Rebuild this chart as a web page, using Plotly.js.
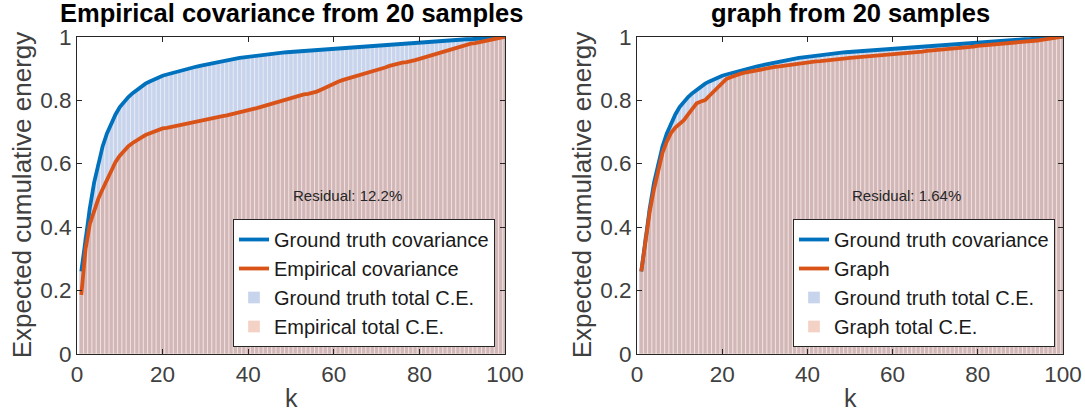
<!DOCTYPE html>
<html>
<head>
<meta charset="utf-8">
<script src="https://cdn.plot.ly/plotly-3.0.1.min.js"></script>
<style>html,body{margin:0;padding:0;background:#fff;}#chart{width:1085px;height:417px;}</style>
</head>
<body>
<div id="chart"></div>
<script>
// k = 1..100
const k = [1,2,3,4,5,6,7,8,9,10,11,12,13,14,15,16,17,18,19,20,21,22,23,24,25,26,27,28,29,30,31,32,33,34,35,36,37,38,39,40,41,42,43,44,45,46,47,48,49,50,51,52,53,54,55,56,57,58,59,60,61,62,63,64,65,66,67,68,69,70,71,72,73,74,75,76,77,78,79,80,81,82,83,84,85,86,87,88,89,90,91,92,93,94,95,96,97,98,99,100];

// Ground truth covariance expected cumulative energy (same in both panels)
const groundTruth = [0.26,0.37,0.46,0.54,0.60,0.655,0.695,0.728,0.755,0.778,0.795,0.81,0.822,0.833,0.843,0.852,0.859,0.866,0.872,0.877,0.881,0.885,0.889,0.893,0.897,0.900,0.903,0.906,0.909,0.912,0.915,0.918,0.921,0.924,0.927,0.929,0.931,0.933,0.935,0.937,0.939,0.940,0.942,0.944,0.945,0.947,0.948,0.950,0.951,0.952,0.953,0.955,0.956,0.957,0.958,0.959,0.960,0.961,0.962,0.963,0.964,0.965,0.966,0.967,0.968,0.969,0.970,0.971,0.972,0.973,0.974,0.975,0.976,0.977,0.978,0.979,0.980,0.981,0.982,0.983,0.984,0.984,0.985,0.986,0.987,0.988,0.988,0.989,0.990,0.991,0.992,0.992,0.993,0.994,0.995,0.996,0.997,0.998,0.999,1.0];

// Empirical covariance (left panel)
const empirical = [0.186,0.33,0.41,0.455,0.49,0.52,0.55,0.575,0.605,0.625,0.64,0.655,0.665,0.675,0.682,0.69,0.696,0.701,0.706,0.711,0.713,0.716,0.719,0.722,0.724,0.727,0.73,0.734,0.737,0.74,0.743,0.745,0.748,0.75,0.752,0.755,0.757,0.76,0.763,0.766,0.77,0.775,0.779,0.783,0.787,0.791,0.796,0.8,0.805,0.809,0.812,0.815,0.818,0.82,0.823,0.827,0.833,0.84,0.846,0.853,0.858,0.863,0.867,0.871,0.874,0.877,0.881,0.884,0.888,0.893,0.898,0.903,0.908,0.912,0.915,0.918,0.92,0.922,0.926,0.93,0.934,0.938,0.942,0.946,0.951,0.956,0.96,0.964,0.968,0.972,0.975,0.978,0.98,0.983,0.985,0.987,0.99,0.993,0.996,1.0];

// Graph (right panel)
const graphCE = [0.26,0.36,0.45,0.52,0.575,0.635,0.67,0.697,0.714,0.725,0.737,0.755,0.772,0.79,0.796,0.80,0.814,0.828,0.84,0.857,0.867,0.872,0.878,0.882,0.886,0.889,0.892,0.895,0.898,0.90,0.902,0.904,0.906,0.908,0.91,0.912,0.914,0.916,0.918,0.919,0.92,0.922,0.923,0.925,0.926,0.928,0.929,0.93,0.932,0.933,0.934,0.936,0.937,0.938,0.939,0.94,0.941,0.943,0.944,0.946,0.947,0.948,0.949,0.95,0.951,0.952,0.953,0.955,0.956,0.957,0.958,0.96,0.961,0.962,0.964,0.965,0.967,0.968,0.969,0.971,0.972,0.973,0.974,0.976,0.977,0.978,0.979,0.98,0.982,0.983,0.984,0.985,0.987,0.988,0.99,0.992,0.994,0.996,0.998,1.0];

const titles = ['Empirical covariance from 20 samples', 'graph from 20 samples'];
const lineNames = ['Empirical covariance', 'Graph'];
const barNames = ['Empirical total C.E.', 'Graph total C.E.'];
const residuals = ['Residual: 12.2%', 'Residual: 1.64%'];
const xTicks = [0,20,40,60,80,100];
const yTicks = [0,0.2,0.4,0.6,0.8,1];

const W = 1085, H = 417;
const FONT = 'Liberation Sans, Arial, Helvetica, sans-serif';
const BLUE = '#0072BD', RED = '#D95319';
const GT_FILL = '#c8d4ec';
const EMP_FILL = 'rgba(225,140,110,0.40)';
const STRIPE = 'rgba(255,255,255,0.42)';

// pixel geometry of the two panels
const panels = [{x0:77, x1:505}, {x0:637, x1:1063}];
const yTop = 36.7, yBot = 354;
const px = v => v / W, py = v => (H - v) / H;

const series = [empirical, graphCE];
const data = [];
panels.forEach((p, i) => {
  const xa = i === 0 ? 'x' : 'x2', ya = i === 0 ? 'y' : 'y2';
  const lg = i === 0 ? 'legend' : 'legend2';
  data.push({type:'scatter', mode:'lines', x:k, y:groundTruth, xaxis:xa, yaxis:ya, legend:lg,
    name:'Ground truth covariance', line:{color:BLUE, width:3.8}, hoverinfo:'skip'});
  data.push({type:'scatter', mode:'lines', x:k, y:series[i], xaxis:xa, yaxis:ya, legend:lg,
    name:lineNames[i], line:{color:RED, width:3.8}, hoverinfo:'skip'});
  data.push({type:'bar', x:k, y:groundTruth, xaxis:xa, yaxis:ya, legend:lg, width:1,
    name:'Ground truth total C.E.', marker:{color:GT_FILL, line:{color:STRIPE, width:0.8}}, hoverinfo:'skip'});
  data.push({type:'bar', x:k, y:series[i], xaxis:xa, yaxis:ya, legend:lg, width:1,
    name:barNames[i], marker:{color:EMP_FILL, line:{color:STRIPE, width:0.8}}, hoverinfo:'skip'});
});

const axisCommon = {
  showline:true, linecolor:'#262626', linewidth:1, mirror:'ticks', ticks:'inside', ticklen:5,
  tickcolor:'#262626', showgrid:false, zeroline:false, fixedrange:true,
  tickfont:{family:FONT, size:22.5, color:'#404040'}
};

const legendCommon = {xanchor:'right', y:py(347), yanchor:'bottom', bgcolor:'#fff', bordercolor:'#262626', borderwidth:1,
  font:{family:FONT, size:20, color:'#1a1a1a'}, itemwidth:30, tracegroupgap:0, traceorder:'normal'};

const layout = {
  width:W, height:H, margin:{l:0, r:0, t:0, b:0}, paper_bgcolor:'#fff', plot_bgcolor:'#fff',
  barmode:'overlay', bargap:0, showlegend:true,
  xaxis: Object.assign({}, axisCommon, {domain:[px(panels[0].x0), px(panels[0].x1)], range:[0,100], tickvals:xTicks, anchor:'y'}),
  yaxis: Object.assign({}, axisCommon, {domain:[py(yBot), py(yTop)], range:[0,1], tickvals:yTicks, anchor:'x'}),
  xaxis2: Object.assign({}, axisCommon, {domain:[px(panels[1].x0), px(panels[1].x1)], range:[0,100], tickvals:xTicks, anchor:'y2'}),
  yaxis2: Object.assign({}, axisCommon, {domain:[py(yBot), py(yTop)], range:[0,1], tickvals:yTicks, anchor:'x2'}),
  legend: Object.assign({x:px(495)}, legendCommon),
  legend2: Object.assign({x:px(1055)}, legendCommon),
  annotations: []
};

panels.forEach((p, i) => {
  const xa = i === 0 ? 'x' : 'x2', ya = i === 0 ? 'y' : 'y2';
  const cx = px((p.x0 + p.x1) / 2);
  layout.annotations.push({xref:'paper', yref:'paper', x:cx, y:py(13), xanchor:'center', yanchor:'middle', showarrow:false,
    text:titles[i], font:{family:FONT, size:25.5, color:'#000', weight:'bold'}});
  layout.annotations.push({xref:'paper', yref:'paper', x:cx, y:py(398), xanchor:'center', yanchor:'middle', showarrow:false,
    text:'k', font:{family:FONT, size:25, color:'#404040'}});
  layout.annotations.push({xref:'paper', yref:'paper', x:px(p.x0 - 55), y:py((yTop + yBot) / 2), xanchor:'center', yanchor:'middle',
    showarrow:false, textangle:-90, text:'Expected cumulative energy', font:{family:FONT, size:26, color:'#404040'}});
  layout.annotations.push({xref:xa, yref:ya, x:50, y:0.5, xanchor:'left', yanchor:'middle', showarrow:false,
    text:residuals[i], font:{family:FONT, size:15, color:'#262626'}});
});

Plotly.newPlot('chart', data, layout, {staticPlot:true, displayModeBar:false});
</script>
</body>
</html>
